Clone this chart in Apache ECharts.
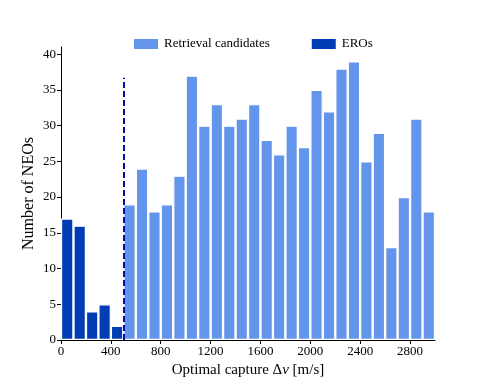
<!DOCTYPE html>
<html>
<head>
<meta charset="utf-8">
<script src="https://cdn.jsdelivr.net/npm/echarts@6/dist/echarts.min.js"></script>
<style>
  html, body { margin: 0; padding: 0; background: #fff; }
  #chart { width: 484px; height: 388px; }
</style>
</head>
<body>
<div id="chart"></div>
<script>
// histogram bins, 100 m/s wide, given by bin start
const eroBins = [0, 100, 200, 300, 400];
const eroCounts = [17, 16, 4, 5, 2];
const candBins = [500, 600, 700, 800, 900, 1000, 1100, 1200, 1300, 1400, 1500, 1600, 1700,
  1800, 1900, 2000, 2100, 2200, 2300, 2400, 2500, 2600, 2700, 2800, 2900];
const candCounts = [19, 24, 18, 19, 23, 37, 30, 33, 30, 31, 33, 28, 26,
  30, 27, 35, 32, 38, 39, 25, 29, 13, 20, 31, 18];
const binWidth = 100;
const cutoff = [500, 36.7]; // dashed line: x position, top
const xTicks = [0, 400, 800, 1200, 1600, 2000, 2400, 2800];

const font = '"Liberation Serif", "DejaVu Serif", serif';

function toBars(bins, counts) {
  return bins.map((b, i) => [b + binWidth / 2, counts[i]]);
}

const chart = echarts.init(document.getElementById('chart'));
chart.setOption({
  animation: false,
  textStyle: { fontFamily: font, color: '#000' },
  grid: { left: 61, right: 49, top: 47, bottom: 48 },
  legend: {
    top: 32,
    left: 127,
    itemGap: 40,
    itemWidth: 26,
    itemHeight: 12,
    icon: 'rect',
    textStyle: { fontFamily: font, fontSize: 13, color: '#000' },
    data: ['Retrieval candidates', 'EROs']
  },
  xAxis: {
    type: 'value',
    min: 0,
    max: 3000,
    name: 'Optimal capture Δ{i|v} [m/s]',
    nameLocation: 'middle',
    nameGap: 23,
    nameTextStyle: {
      fontFamily: font, fontSize: 15, color: '#000',
      rich: { i: { fontFamily: font, fontStyle: 'italic', fontSize: 15, color: '#000' } }
    },
    axisLine: { lineStyle: { color: '#000', width: 1 } },
    axisTick: { show: true, length: 4, lineStyle: { color: '#000' },
      customValues: xTicks },
    axisLabel: { fontFamily: font, fontSize: 13, color: '#000', margin: 5,
      customValues: xTicks, formatter: v => String(v) },
    splitLine: { show: false }
  },
  yAxis: {
    type: 'value',
    min: 0,
    max: 41,
    interval: 5,
    name: 'Number of NEOs',
    nameLocation: 'middle',
    nameGap: 24,
    nameMoveOverlap: false,
    nameTextStyle: { fontFamily: font, fontSize: 16, color: '#000' },
    axisLine: { show: true, lineStyle: { color: '#000', width: 1 } },
    axisTick: { show: true, length: 4, lineStyle: { color: '#000' } },
    axisLabel: { fontFamily: font, fontSize: 13, color: '#000', margin: 5, showMaxLabel: false },
    splitLine: { show: false }
  },
  series: [
    {
      name: 'Retrieval candidates',
      type: 'bar',
      stack: 'h',
      barWidth: 12.5,
      itemStyle: { color: '#6495ed', borderColor: '#fff', borderWidth: 1.2 },
      data: toBars(candBins, candCounts)
    },
    {
      name: 'EROs',
      type: 'bar',
      stack: 'h',
      barWidth: 12.5,
      itemStyle: { color: '#003cb4', borderColor: '#fff', borderWidth: 1.2 },
      data: toBars(eroBins, eroCounts),
      markLine: {
        silent: true,
        symbol: 'none',
        label: { show: false },
        lineStyle: { color: '#0a0aa8', type: [6, 3], width: 2 },
        data: [[{ coord: [cutoff[0], 0] }, { coord: [cutoff[0], cutoff[1]] }]]
      }
    }
  ]
});
</script>
</body>
</html>
